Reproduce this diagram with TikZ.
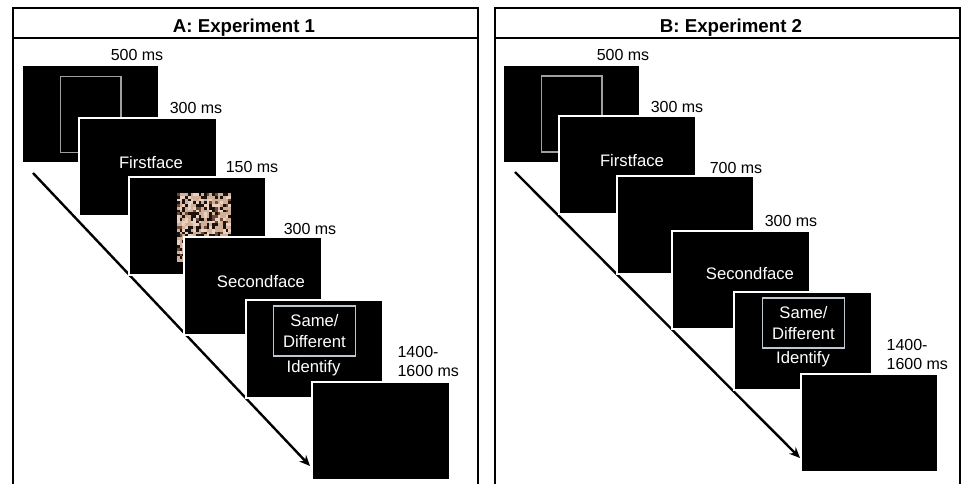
\documentclass[tikz,border=0pt]{standalone}
\usepackage{fontspec}
\setmainfont{Liberation Sans}
\usetikzlibrary{arrows.meta, positioning}
\definecolor{cuegray}{RGB}{160,160,160}
\definecolor{boxgray}{RGB}{190,198,208}
\definecolor{noiseA}{RGB}{210,176,152}
\definecolor{noiseB}{RGB}{234,208,192}
\definecolor{noiseC}{RGB}{110,74,56}
\definecolor{noiseD}{RGB}{28,18,14}
\pgfmathdeclarerandomlist{noiselist}{{noiseA}{noiseA}{noiseB}{noiseB}{noiseA}{noiseC}{noiseD}{noiseD}}
\tikzset{
  frame/.style={line width=1.7pt, draw=black},
  paneltitle/.style={font=\fontsize{14}{16}\selectfont\bfseries, inner sep=0pt, anchor=base},
  screen/.style={
    rectangle, fill=black, draw=white, line width=1.5pt,
    minimum width=103pt, minimum height=73.5pt, inner sep=0pt
  },
  scrtext/.style={text=white, font=\fontsize{12.5}{15}\selectfont, inner sep=0pt, anchor=base},
  mslabel/.style={font=\fontsize{12}{14}\selectfont, inner sep=1pt, align=left},
  cuebox/.style={draw=cuegray, line width=1pt, minimum width=45.5pt, minimum height=57pt},
  choicebox/.style={
    rectangle, draw=boxgray, line width=0.8pt, text=white,
    minimum width=61.5pt, minimum height=37.5pt, inner sep=0pt,
    align=center, font=\fontsize{12.5}{15.5}\selectfont
  },
  timeline/.style={line width=1.8pt, -{Stealth[length=8pt,width=7pt]}},
}

\begin{document}
\begin{tikzpicture}[x=0.75pt, y=-0.75pt]

  \clip (0,0) rectangle (961,484);

  % --- Panel A: Experiment 1 ---
  \draw[frame] (13,8) rectangle (478,492);
  \draw[frame] (13,38) -- (478,38);
  \node[paneltitle] (titleA) at (244,32.7) {A: Experiment 1};

  \coordinate (startA) at (33,173);
  \coordinate (endA) at (310,466);
  \draw[timeline] (startA) -- (endA);

  \node[screen] (fixA) at (90.5,114.5) {};
  \node[cuebox] (cueA) at (fixA) {};
  \node[screen] (face1A) at (148,167) {};
  \node[screen] (maskA) at (197.5,226) {};
  % mascara de ruido
  \pgfmathsetseed{17}
  \foreach \i in {0,...,19} {
    \foreach \j in {0,...,24} {
      \pgfmathrandomitem{\nc}{noiselist}
      \fill[color=\nc] (177+\i*2.7,193+\j*2.76) rectangle ++(2.7,2.76);
    }
  }
  \node[screen] (face2A) at (253,286) {};
  \node[screen] (respA) at (314.5,349) {};
  \node[choicebox] (choiceA) at (314.5,331) {Same/\\Different};
  \node[screen] (blankA) at (381,431) {};

  \node[scrtext] (face1Atxt) at (151,168.3) {Firstface};
  \node[scrtext] (face2Atxt) at (261,288) {Secondface};
  \node[scrtext] (idA) at (313.5,372.7) {Identify};

  \node[mslabel, anchor=base] (t1A) at (137,61) {500 ms};
  \node[mslabel, anchor=base] (t2A) at (196,114) {300 ms};
  \node[mslabel, anchor=base] (t3A) at (252,173) {150 ms};
  \node[mslabel, anchor=base] (t4A) at (310,235) {300 ms};
  \node[mslabel, anchor=north west] (t5A) at (396,345) {1400-\\1600 ms};

  % --- Panel B: Experiment 2 ---
  \draw[frame] (495,8) rectangle (960,492);
  \draw[frame] (495,38) -- (960,38);
  \node[paneltitle] (titleB) at (731,32.7) {B: Experiment 2};

  \coordinate (startB) at (515,172);
  \coordinate (endB) at (800,458);
  \draw[timeline] (startB) -- (endB);

  \node[screen] (fixB) at (571.5,114) {};
  \node[cuebox] (cueB) at (fixB) {};
  \node[screen] (face1B) at (627.5,165.5) {};
  \node[screen] (blankISI) at (685.5,225.5) {};
  \node[screen] (face2B) at (741,280) {};
  \node[screen] (respB) at (803,341.5) {};
  \node[choicebox] (choiceB) at (803.5,323) {Same/\\Different};
  \node[screen] (blankB) at (869.5,423.5) {};

  \node[scrtext] (face1Btxt) at (632,167) {Firstface};
  \node[scrtext] (face2Btxt) at (750,280) {Secondface};
  \node[scrtext] (idB) at (803,364) {Identify};

  \node[mslabel, anchor=base] (t1B) at (623,61) {500 ms};
  \node[mslabel, anchor=base] (t2B) at (677,113) {300 ms};
  \node[mslabel, anchor=base] (t3B) at (736,174) {700 ms};
  \node[mslabel, anchor=base] (t4B) at (791,227) {300 ms};
  \node[mslabel, anchor=north west] (t5B) at (885,338) {1400-\\1600 ms};

\end{tikzpicture}
\end{document}
